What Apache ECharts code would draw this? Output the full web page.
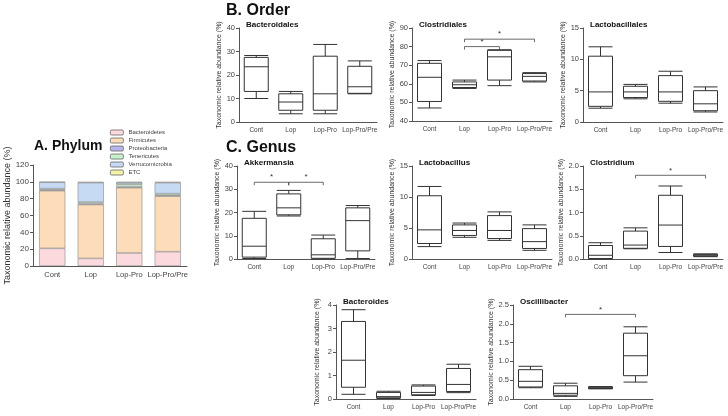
<!DOCTYPE html>
<html>
<head>
<meta charset="utf-8">
<script src="https://cdn.jsdelivr.net/npm/echarts@6/dist/echarts.min.js"></script>
<style>
    html, body { margin: 0; padding: 0; background: #fff; }
    #main { width: 728px; height: 416px; }
</style>
</head>
<body>
<div id="main"></div>
<script>
// groups on every x axis
const groups = ['Cont', 'Lop', 'Lop-Pro', 'Lop-Pro/Pre'];

// A. Phylum, stacked % per group
const phylumNames = ['Bacteroidetes', 'Firmicutes', 'Proteobacteria', 'Tenericutes', 'Verrucomicrobia', 'ETC'];
const bacteroidetes = [21, 9, 15.5, 17];
const firmicutes = [68.5, 64, 77.5, 66];
const proteobacteria = [1, 1, 1, 1];
const tenericutes = [1.5, 2, 3, 2];
const verrucomicrobia = [7.5, 23, 2, 13];
const etc = [0.5, 1, 1, 1];
const phylumColors = ['#fbd9dd', '#fcdcb9', '#b7b5ee', '#c9efcc', '#c6daf4', '#f3f2a8'];

// box data: [min, Q1, median, Q3, max]
const bacteroidalesBox = [[10, 13, 23.5, 27.5, 28.3], [3.5, 5, 8.5, 12, 13], [3.5, 5, 12, 28, 33], [12, 12.2, 15, 23.7, 26]];
const clostridialesBox = [[47, 50.5, 63.5, 71, 72.5], [57.5, 58, 59.5, 61, 62], [59, 62, 74.5, 78, 78.3], [61, 61.5, 64, 65.5, 66]];
const lactobacillalesBox = [[2.2, 2.5, 4.8, 10.5, 12], [3.7, 3.9, 4.8, 5.7, 6], [3, 3.3, 4.8, 7.4, 8.1], [1.6, 1.8, 2.9, 5, 5.6]];
const akkermansiaBox = [[0.2, 0.8, 5.5, 17.5, 20.5], [18.5, 19, 22, 28, 29.5], [0, 0.3, 1.8, 8.7, 10.3], [0.2, 3.5, 16.5, 22, 23]];
const lactobacillusBox = [[2, 2.5, 4.7, 10.2, 11.7], [3.5, 3.8, 4.6, 5.5, 5.8], [3, 3.3, 4.6, 7, 7.6], [1.4, 1.7, 2.8, 4.9, 5.5]];
const clostridiumBox = [[0, 0.01, 0.08, 0.29, 0.35], [0.22, 0.23, 0.3, 0.6, 0.67], [0.14, 0.27, 0.73, 1.37, 1.57], [0.05, 0.06, 0.08, 0.1, 0.11]];
const bacteroidesBox = [[0.2, 0.5, 1.65, 3.3, 3.8], [0.02, 0.05, 0.1, 0.28, 0.33], [0.15, 0.18, 0.28, 0.55, 0.6], [0.27, 0.32, 0.62, 1.3, 1.48]];
const oscillibacterBox = [[0.3, 0.32, 0.47, 0.78, 0.87], [0.07, 0.1, 0.15, 0.35, 0.42], [0.27, 0.28, 0.3, 0.32, 0.33], [0.45, 0.62, 1.15, 1.75, 1.92]];

// significance brackets: [fromGroup, toGroup, level]
const clostridialesSig = [[1, 2, 80], [1, 3, 84]];
const akkermansiaSig = [[0, 1, 33], [1, 2, 33]];
const clostridiumSig = [[1, 3, 1.8]];
const oscillibacterSig = [[1, 3, 2.25]];

const yName = 'Taxonomic relative abundance (%)';
const font = 'Liberation Sans';

// panel layout (px)
const panels = [
    { name: 'Bacteroidales', box: bacteroidalesBox, sig: [], min: 0, max: 40, step: 10, dec: 0, left: 239, top: 28, w: 138, h: 94 },
    { name: 'Clostridiales', box: clostridialesBox, sig: clostridialesSig, min: 40, max: 90, step: 10, dec: 0, left: 412, top: 28, w: 140, h: 93 },
    { name: 'Lactobacillales', box: lactobacillalesBox, sig: [], min: 0, max: 15, step: 5, dec: 0, left: 583, top: 28, w: 140, h: 94 },
    { name: 'Akkermansia', box: akkermansiaBox, sig: akkermansiaSig, min: 0, max: 40, step: 10, dec: 0, left: 237, top: 166, w: 138, h: 93 },
    { name: 'Lactobacillus', box: lactobacillusBox, sig: [], min: 0, max: 15, step: 5, dec: 0, left: 412, top: 166, w: 140, h: 93 },
    { name: 'Clostridium', box: clostridiumBox, sig: clostridiumSig, min: 0, max: 2, step: 0.5, dec: 1, left: 583, top: 166, w: 140, h: 93 },
    { name: 'Bacteroides', box: bacteroidesBox, sig: [], min: 0, max: 4, step: 1, dec: 0, left: 336, top: 305, w: 140, h: 94 },
    { name: 'Oscillibacter', box: oscillibacterBox, sig: oscillibacterSig, min: 0, max: 2.5, step: 0.5, dec: 1, left: 513, top: 305, w: 140, h: 94 }
];

let chart = echarts.init(document.getElementById('main'), null, { renderer: 'canvas' });

const axisLine = { lineStyle: { color: '#555', width: 1 } };
const xLabel = { fontSize: 6.5, color: '#444', fontFamily: font, margin: 5, interval: 0 };
const yLabel = { fontSize: 7.5, color: '#444', fontFamily: font, margin: 4 };

let grid = [], xAxis = [], yAxis = [], series = [], title = [];

title.push({ text: 'A. Phylum', left: 29, top: 134, textStyle: { fontSize: 14, fontWeight: 'bold', fontFamily: font, color: '#111' } });
title.push({ text: 'B. Order', left: 221, top: -2, textStyle: { fontSize: 16, fontWeight: 'bold', fontFamily: font, color: '#111' } });
title.push({ text: 'C. Genus', left: 221, top: 135, textStyle: { fontSize: 16, fontWeight: 'bold', fontFamily: font, color: '#111' } });

// phylum grid (index 0)
grid.push({ left: 33, top: 165, width: 154, height: 101 });
xAxis.push({ type: 'category', gridIndex: 0, data: groups, axisLine: axisLine, axisTick: { show: false }, axisLabel: Object.assign({}, xLabel, { fontSize: 7.5 }) });
yAxis.push({
    type: 'value', gridIndex: 0, min: 0, max: 120, interval: 20, splitLine: { show: false },
    axisLine: Object.assign({ show: true }, axisLine), axisTick: { show: true, length: 3, lineStyle: { color: '#555' } },
    axisLabel: Object.assign({}, yLabel, { fontSize: 8 }),
    name: yName, nameLocation: 'middle', nameGap: 20, nameTextStyle: { fontSize: 9, color: '#333', fontFamily: font }
});
const phylumData = [bacteroidetes, firmicutes, proteobacteria, tenericutes, verrucomicrobia, etc];
phylumData.forEach(function (arr, i) {
    series.push({
        name: phylumNames[i], type: 'bar', stack: 'phylum', xAxisIndex: 0, yAxisIndex: 0,
        data: arr, barWidth: '68%',
        itemStyle: { color: phylumColors[i], borderColor: '#888', borderWidth: 0.6 }
    });
});

// box plot grids
panels.forEach(function (p, k) {
    let g = k + 1;
    grid.push({ left: p.left, top: p.top, width: p.w, height: p.h });
    title.push({ text: p.name, left: p.left + 2, top: p.top - 12, textStyle: { fontSize: 8, fontWeight: 'bold', fontFamily: font, color: '#111' } });
    xAxis.push({ type: 'category', gridIndex: g, data: groups, axisLine: axisLine, axisTick: { show: false }, axisLabel: xLabel });
    yAxis.push({
        type: 'value', gridIndex: g, min: p.min, max: p.max, interval: p.step, splitLine: { show: false },
        axisLine: Object.assign({ show: true }, axisLine), axisTick: { show: true, length: 3, lineStyle: { color: '#555' } },
        axisLabel: Object.assign({}, yLabel, { formatter: function (v) { return v.toFixed(p.dec); } }),
        name: yName, nameLocation: 'middle', nameGap: p.dec ? 18 : 15,
        nameTextStyle: { fontSize: 7, color: '#333', fontFamily: font }
    });
    series.push({
        type: 'boxplot', xAxisIndex: g, yAxisIndex: g, data: p.box, boxWidth: [24, 24],
        itemStyle: { color: '#fff', borderColor: '#333', borderWidth: 1 }
    });
    if (p.sig.length) {
        series.push({
            type: 'custom', xAxisIndex: g, yAxisIndex: g, data: p.sig,
            encode: { x: [0, 1], y: 2 }, silent: true,
            renderItem: function (params, api) {
                let a = api.coord([api.value(0), api.value(2)]);
                let b = api.coord([api.value(1), api.value(2)]);
                let d = 3;
                return {
                    type: 'group',
                    children: [
                        { type: 'polyline', shape: { points: [[a[0], a[1] + d], a, b, [b[0], b[1] + d]] }, style: { stroke: '#444', lineWidth: 0.8, fill: null } },
                        { type: 'text', style: { text: '*', x: (a[0] + b[0]) / 2, y: a[1] - 1, textAlign: 'center', textVerticalAlign: 'bottom', fontSize: 8, fill: '#333', fontFamily: font } }
                    ]
                };
            }
        });
    }
});

const option = {
    animation: false,
    textStyle: { fontFamily: font },
    title: title,
    legend: {
        data: phylumNames, orient: 'vertical', left: 105, top: 124,
        itemWidth: 13, itemHeight: 5, itemGap: 1,
        textStyle: { fontSize: 6, lineHeight: 7, color: '#444', fontFamily: font },
        itemStyle: { borderColor: '#666', borderWidth: 0.8 }
    },
    grid: grid,
    xAxis: xAxis,
    yAxis: yAxis,
    series: series
};
chart.setOption(option);
</script>
</body>
</html>
